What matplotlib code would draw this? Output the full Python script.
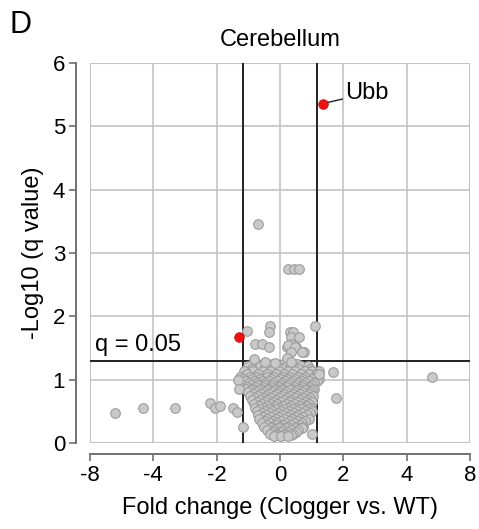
import numpy as np
import matplotlib
matplotlib.use('Agg')
import matplotlib.pyplot as plt
from matplotlib.patches import Rectangle

plt.rcParams['font.family'] = ['Liberation Sans', 'DejaVu Sans']

# log2 fold change (Clogger vs. WT) and -log10(q) for the scattered proteins
spread_x = [-2.61, -2.17, -1.66, -1.11, -1.03, -0.95, -0.74, -0.68, 2.40,
            -0.35, 0.13, 0.22, 0.30, 0.55, -0.52, -0.16, -0.18, 0.16, 0.21,
            0.18, 0.30, -0.39, -0.29, -0.17, 0.17, 0.11, 0.26, 0.13, 0.24,
            0.17, 0.38, -0.41, -0.24, -0.08, 0.11, 0.18, 0.34, 0.83, 0.88,
            0.62, -0.66, -0.64, -0.58, 0.50]
spread_y = [0.47, 0.55, 0.55, 0.63, 0.56, 0.58, 0.55, 0.49, 1.04,
            3.46, 2.75, 2.75, 2.75, 1.84, 1.77, 1.85, 1.76, 1.76, 1.76,
            1.68, 1.68, 1.56, 1.56, 1.52, 1.56, 1.52, 1.52, 1.55, 1.52,
            1.44, 1.43, 1.32, 1.28, 1.26, 1.34, 1.28, 1.43, 1.12, 0.71,
            1.09, 1.00, 0.85, 0.25, 0.15]

# dense cluster near zero, read row by row: (-log10 q, [log2 fc ...])
cluster_rows = [
    (1.24, [-0.36, -0.12, 0.04, 0.16, 0.27]),
    (1.21, [-0.50, -0.31, -0.19, -0.04, 0.09, 0.21, 0.33, 0.44]),
    (1.17, [-0.44, -0.25, -0.08, 0.03, 0.15, 0.28, 0.47]),
    (1.13, [-0.57, -0.43, -0.27, -0.14, -0.01, 0.13, 0.24, 0.39, 0.51, 0.61]),
    (1.09, [-0.52, -0.35, -0.20, -0.07, 0.07, 0.19, 0.33, 0.45, 0.57]),
    (1.05, [-0.63, -0.47, -0.37, -0.21, -0.09, 0.05, 0.15, 0.29, 0.40, 0.56]),
    (1.01, [-0.58, -0.44, -0.31, -0.15, 0.00, 0.11, 0.24, 0.37, 0.50, 0.62]),
    (0.98, [-0.55, -0.41, -0.29, -0.17, -0.05, 0.08, 0.21, 0.34, 0.45, 0.58]),
    (0.95, [-0.49, -0.36, -0.23, -0.11, 0.03, 0.16, 0.28, 0.40, 0.53]),
    (0.92, [-0.60, -0.46, -0.35, -0.23, -0.12, 0.01, 0.12, 0.26, 0.37, 0.50]),
    (0.89, [-0.52, -0.39, -0.27, -0.14, -0.02, 0.09, 0.22, 0.34, 0.47]),
    (0.86, [-0.53, -0.43, -0.30, -0.18, -0.06, 0.05, 0.19, 0.31, 0.42, 0.54]),
    (0.83, [-0.46, -0.33, -0.21, -0.09, 0.03, 0.15, 0.27, 0.40, 0.51]),
    (0.80, [-0.51, -0.38, -0.26, -0.13, -0.02, 0.10, 0.23, 0.35, 0.47]),
    (0.77, [-0.42, -0.30, -0.17, -0.05, 0.07, 0.20, 0.32, 0.45]),
    (0.74, [-0.47, -0.35, -0.22, -0.09, 0.03, 0.16, 0.27, 0.41, 0.52]),
    (0.71, [-0.39, -0.26, -0.14, -0.02, 0.11, 0.23, 0.36, 0.48]),
    (0.68, [-0.44, -0.31, -0.20, -0.07, 0.06, 0.18, 0.31, 0.44]),
    (0.65, [-0.36, -0.23, -0.10, 0.02, 0.15, 0.28, 0.40, 0.51]),
    (0.62, [-0.41, -0.28, -0.15, -0.04, 0.09, 0.22, 0.34, 0.46]),
    (0.59, [-0.33, -0.20, -0.08, 0.05, 0.18, 0.31, 0.43]),
    (0.56, [-0.39, -0.26, -0.13, -0.01, 0.12, 0.25, 0.37, 0.49]),
    (0.53, [-0.31, -0.18, -0.06, 0.07, 0.20, 0.33, 0.45]),
    (0.50, [-0.37, -0.24, -0.12, 0.02, 0.14, 0.27, 0.40, 0.51]),
    (0.47, [-0.29, -0.16, -0.03, 0.09, 0.22, 0.35, 0.47]),
    (0.44, [-0.35, -0.22, -0.10, 0.03, 0.16, 0.28, 0.42]),
    (0.41, [-0.27, -0.14, -0.01, 0.12, 0.25, 0.37]),
    (0.38, [-0.33, -0.20, -0.07, 0.06, 0.19, 0.32, 0.45]),
    (0.35, [-0.24, -0.11, 0.02, 0.15, 0.28, 0.40]),
    (0.32, [-0.29, -0.16, -0.04, 0.09, 0.22, 0.35]),
    (0.29, [-0.20, -0.07, 0.05, 0.18, 0.31]),
    (0.26, [-0.25, -0.13, 0.00, 0.13, 0.25, 0.37]),
    (0.23, [-0.15, -0.02, 0.10, 0.23, 0.34]),
    (0.20, [-0.21, -0.09, 0.04, 0.17, 0.29]),
    (0.17, [-0.11, 0.01, 0.13, 0.25]),
    (0.15, [-0.16, -0.04, 0.08, 0.20]),
    (0.13, [-0.06, 0.06, 0.17]),
    (0.11, [-0.09, 0.02, 0.13]),
]

# significant hits (red)
hit_x = [0.68, -0.64]
hit_y = [5.36, 1.68]
hit_names = ['Ubb', '']

fc_ticks = [-3, -2, -1, 0, 1, 2, 3]
fc_labels = ['-8', '-4', '-2', '0', '2', '4', '8']
fc_cut = np.log2(1.5)
q_cut = -np.log10(0.05)

cx, cy = [], []
for yv, xs in cluster_rows:
    cx += xs
    cy += [yv] * len(xs)

fig = plt.figure(figsize=(4.79, 5.29), dpi=100)
ax = fig.add_axes([90 / 479, 86 / 529, 380 / 479, 380 / 529])

ax.set_xlim(-3, 3)
ax.set_ylim(0, 6)
ax.set_xticks(fc_ticks)
ax.set_xticklabels(fc_labels)
ax.set_yticks(range(7))
ax.grid(True, color='#c4c4c4', linewidth=1.2)
ax.set_axisbelow(True)
ax.add_patch(Rectangle((0, 0), 1, 1, transform=ax.transAxes, fill=False,
                       ec='#c4c4c4', lw=1.5, zorder=0.5))

for side in ['top', 'right']:
    ax.spines[side].set_visible(False)
ax.spines['left'].set_position(('outward', 10))
ax.spines['bottom'].set_position(('outward', 8))
for side in ['left', 'bottom']:
    ax.spines[side].set_color('#707070')
    ax.spines[side].set_linewidth(1.4)
ax.tick_params(colors='#707070', width=1.2, length=5, labelcolor='black',
               labelsize=16, pad=3)

ax.axvline(-fc_cut, color='#202020', lw=1.4, zorder=2)
ax.axvline(fc_cut, color='#202020', lw=1.4, zorder=2)
ax.axhline(q_cut, color='#202020', lw=1.4, zorder=2)

ax.scatter(cx, cy, s=48, c='#c9c9c9', edgecolors='#9c9c9c', linewidths=0.8, zorder=3)
ax.scatter(spread_x, spread_y, s=48, c='#c9c9c9', edgecolors='#9c9c9c',
           linewidths=0.8, zorder=3)
ax.scatter(hit_x, hit_y, s=48, c='#ee1111', edgecolors='#cc0000',
           linewidths=0.5, zorder=4)

ax.annotate(hit_names[0], xy=(hit_x[0], hit_y[0]), xytext=(1.03, 5.52),
            fontsize=17, va='center', ha='left',
            arrowprops=dict(arrowstyle='-', color='#202020', lw=1,
                            shrinkA=0, shrinkB=3))

ax.text(-2.92, q_cut + 0.08, 'q = 0.05', fontsize=17, va='bottom', ha='left')

ax.set_xlabel('Fold change (Clogger vs. WT)', fontsize=17, labelpad=8)
ax.set_ylabel('-Log10 (q value)', fontsize=17, labelpad=6)
ax.set_title('Cerebellum', fontsize=17, pad=12)
fig.text(10 / 479, 1 - 25 / 529, 'D', fontsize=22, va='center', ha='left')

fig.savefig('out.png', dpi=100)
